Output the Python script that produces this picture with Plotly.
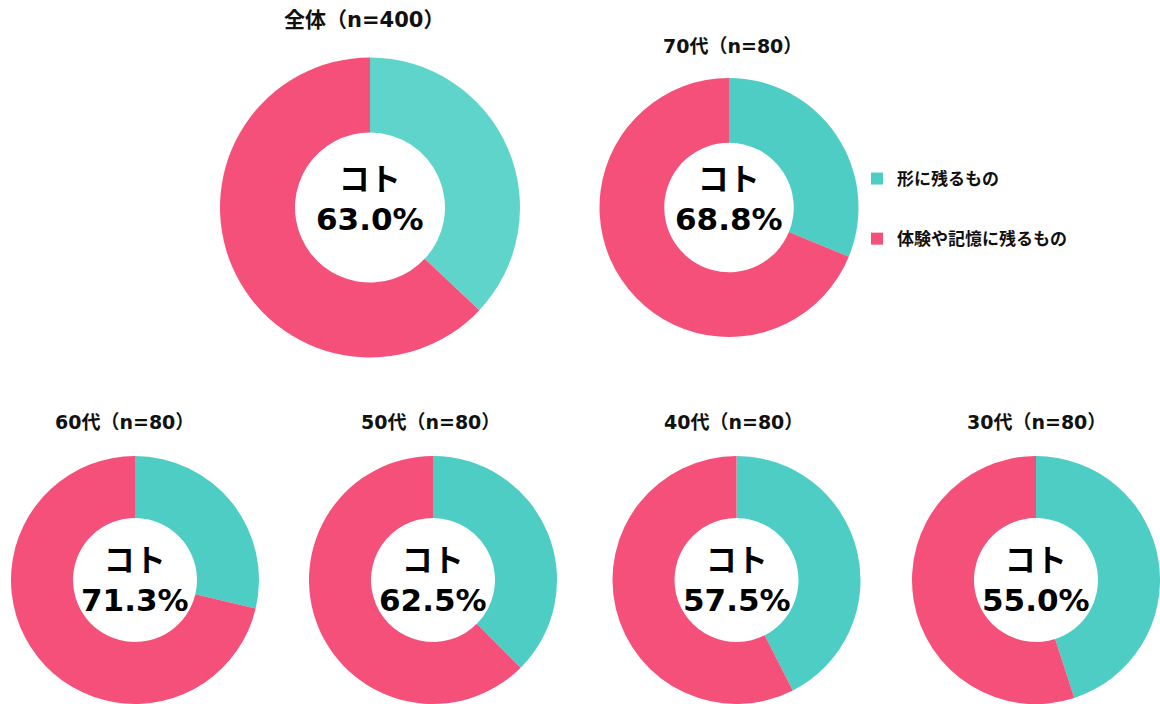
import plotly.graph_objects as go

W, H = 1160, 704

labels = ["形に残るもの", "体験や記憶に残るもの"]
groups = ["全体（n=400）", "70代（n=80）", "60代（n=80）", "50代（n=80）", "40代（n=80）", "30代（n=80）"]
mono = [37.0, 31.2, 28.7, 37.5, 42.5, 45.0]
koto = [63.0, 68.8, 71.3, 62.5, 57.5, 55.0]

teal_colors = ["#5FD4CA", "#4ECDC4", "#4ECDC4", "#4ECDC4", "#4ECDC4", "#4ECDC4"]
pink = "#F4507A"

# layout geometry (pixel centres and radii)
centers = [(370, 207.5), (729, 207.5), (135, 580), (433, 580), (736.5, 580), (1036, 580)]
radii = [150, 129.5, 124, 124, 124, 124]
title_pos = [(364, 20), (732, 46), (125, 422), (430, 422), (733, 422), (1036, 422)]
title_size = [21, 19, 19, 19, 19, 19]
text_y = [199, 199, 580, 580, 580, 580]
text_size = [31, 31, 31, 31, 31, 31]

FONT = "DejaVu Sans, Noto Sans CJK JP"
CJK = "Noto Sans CJK JP"

fig = go.Figure()
ann = []
for i, g in enumerate(groups):
    cx, cy = centers[i]
    r = radii[i]
    dx = [max(0, (cx - r) / W), min(1, (cx + r) / W)]
    dy = [max(0, 1 - (cy + r) / H), min(1, 1 - (cy - r) / H)]
    fig.add_trace(go.Pie(
        labels=labels,
        values=[mono[i], koto[i]],
        hole=0.5,
        sort=False,
        direction="clockwise",
        rotation=0,
        marker=dict(colors=[teal_colors[i], pink], line=dict(width=0)),
        textinfo="none",
        hoverinfo="label+percent",
        domain=dict(x=dx, y=dy),
        showlegend=False,
        name=g,
    ))
    tx, ty = title_pos[i]
    ann.append(dict(x=tx / W, y=1 - ty / H, xref="paper", yref="paper",
                    text="<b>%s</b>" % g, showarrow=False,
                    font=dict(family=FONT, size=title_size[i], color="#111111"),
                    xanchor="center", yanchor="middle"))
    ann.append(dict(x=cx / W, y=1 - text_y[i] / H, xref="paper", yref="paper",
                    text="<b>コト</b><br><b>%.1f%%</b>" % koto[i], showarrow=False,
                    font=dict(family=FONT, size=text_size[i], color="#000000"),
                    xanchor="center", yanchor="middle", align="center"))

# legend via dummy traces (separate groups for spacing)
for lab, col, grp in [(labels[0], teal_colors[1], "a"), (labels[1], pink, "b")]:
    fig.add_trace(go.Scatter(
        x=[None], y=[None], mode="markers", name="<b>%s</b>" % lab,
        legendgroup=grp,
        marker=dict(symbol="square", size=12, color=col),
        showlegend=True, hoverinfo="skip",
    ))

fig.update_layout(
    width=W, height=H,
    margin=dict(l=0, r=0, t=0, b=0),
    paper_bgcolor="white", plot_bgcolor="white",
    annotations=ann,
    xaxis=dict(visible=False), yaxis=dict(visible=False),
    legend=dict(x=857 / W, y=1 - 161 / H, xanchor="left", yanchor="top",
                font=dict(family=CJK, size=17, color="#111111"),
                tracegroupgap=35, itemwidth=30,
                bgcolor="rgba(0,0,0,0)"),
    font=dict(family=FONT),
)

fig.write_html("out.html", config={"displayModeBar": False},
               post_script="document.body.style.margin='0';document.body.style.padding='0';")
